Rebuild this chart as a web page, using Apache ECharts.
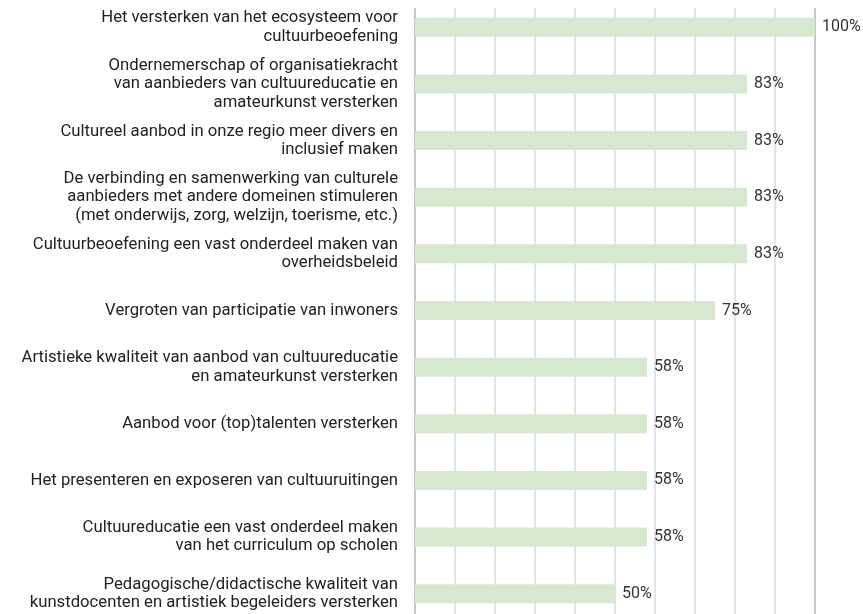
<!DOCTYPE html>
<head>
    <meta charset="utf-8">
    <title>ECharts</title>
</head>
<body style="margin:0;padding:0;">
    <div id="main" style="width:863px;height:614px;"></div>
    <script src="https://cdn.jsdelivr.net/npm/echarts@6/dist/echarts.min.js"></script>
    <script type="text/javascript">
    // categories, top to bottom
    var categories = [
        'Het versterken van het ecosysteem voor\ncultuurbeoefening',
        'Ondernemerschap of organisatiekracht\nvan aanbieders van cultuureducatie en\namateurkunst versterken',
        'Cultureel aanbod in onze regio meer divers en\ninclusief maken',
        'De verbinding en samenwerking van culturele\naanbieders met andere domeinen stimuleren\n(met onderwijs, zorg, welzijn, toerisme, etc.)',
        'Cultuurbeoefening een vast onderdeel maken van\noverheidsbeleid',
        'Vergroten van participatie van inwoners',
        'Artistieke kwaliteit van aanbod van cultuureducatie\nen amateurkunst versterken',
        'Aanbod voor (top)talenten versterken',
        'Het presenteren en exposeren van cultuuruitingen',
        'Cultuureducatie een vast onderdeel maken\nvan het curriculum op scholen',
        'Pedagogische/didactische kwaliteit van\nkunstdocenten en artistiek begeleiders versterken'
    ];
    var values = [100, 83, 83, 83, 83, 75, 58, 58, 58, 58, 50];

    var myChart = echarts.init(document.getElementById('main'));

    // first and last gridline a bit darker
    var gridColors = [];
    for (var i = 0; i <= 10; i++) {
        gridColors.push(i === 0 || i === 10 ? '#a9b7c5' : '#d3dde6');
    }

    var option = {
        animation: false,
        grid: {
            left: 415,
            width: 400,
            top: -1,
            height: 623,
            containLabel: false,
            outerBoundsMode: 'none'
        },
        // gridlines start a little below the top edge
        graphic: [{
            type: 'rect',
            left: 405,
            top: 0,
            shape: { width: 420, height: 8 },
            style: { fill: '#fff' },
            z: 100
        }],
        xAxis: {
            type: 'value',
            min: 0,
            max: 100,
            interval: 10,
            axisLabel: { show: false },
            axisTick: { show: false },
            axisLine: { show: false },
            splitLine: {
                show: true,
                lineStyle: { color: gridColors, width: 1.5 }
            }
        },
        yAxis: {
            type: 'category',
            inverse: true,
            data: categories,
            axisTick: { show: false },
            axisLine: { show: false },
            axisLabel: {
                margin: 17,
                color: '#222',
                fontSize: 16.7,
                lineHeight: 18.5,
                fontFamily: 'Roboto',
                align: 'right'
            }
        },
        series: [{
            type: 'bar',
            data: values,
            barWidth: 19,
            itemStyle: { color: '#d6e8cf' },
            label: {
                show: true,
                position: 'right',
                distance: 7,
                formatter: '{c}%',
                color: '#333',
                fontSize: 16,
                fontFamily: 'Roboto'
            }
        }]
    };
    myChart.setOption(option);
    </script>
</body>
